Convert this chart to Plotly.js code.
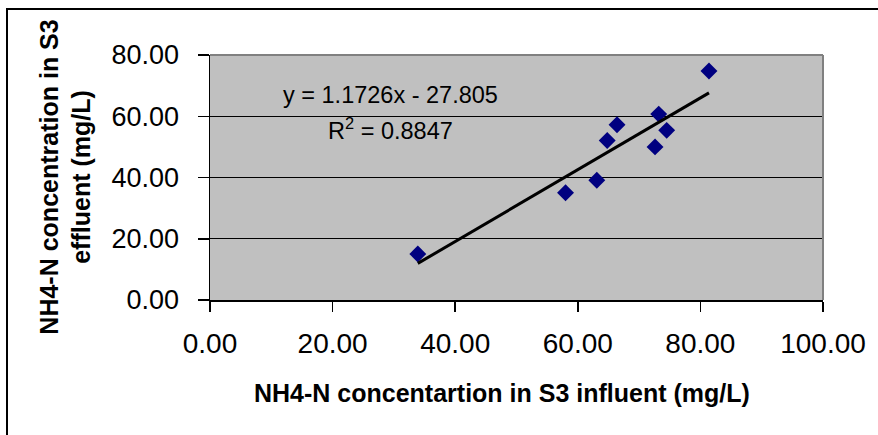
<!DOCTYPE html>
<html>
<head>
<meta charset="utf-8">
<script src="https://cdn.plot.ly/plotly-3.0.1.min.js"></script>
<style>
  html, body { margin: 0; padding: 0; background: #fff; }
  #wrap { position: relative; width: 878px; height: 435px; overflow: hidden; }
  #chart { width: 878px; height: 435px; }
  #frame { position: absolute; left: 6px; top: 8px; width: 1000px; height: 600px;
           border-left: 2px solid #000; border-top: 2px solid #000; pointer-events: none; }
</style>
</head>
<body>
<div id="wrap">
  <div id="chart"></div>
  <div id="frame"></div>
</div>
<script>
// Data
const influent = [33.9, 58.0, 63.1, 64.8, 66.4, 72.6, 73.2, 74.5, 81.4];
const effluent = [15.0, 35.0, 39.1, 52.1, 57.2, 50.0, 60.7, 55.4, 74.8];
const trendSlope = 1.1726;
const trendIntercept = -27.805;
const rSquared = 0.8847;
const xTickVals = [0, 20, 40, 60, 80, 100];
const yTickVals = [0, 20, 40, 60, 80];
const xTitle = 'NH4-N concentartion in S3 influent (mg/L)';
const yTitleLines = ['NH4-N concentration in S3', 'effluent (mg/L)'];

const xMin = Math.min(...influent);
const xMax = Math.max(...influent);
const trendX = [xMin, xMax];
const trendY = trendX.map(x => trendSlope * x + trendIntercept);

const font = '"Liberation Sans", Arial, sans-serif';

const traces = [
  {
    x: influent, y: effluent, type: 'scatter', mode: 'markers',
    marker: { symbol: 'diamond', size: 13, color: '#000080', line: { width: 0 } },
    hoverinfo: 'x+y', showlegend: false
  },
  {
    x: trendX, y: trendY, type: 'scatter', mode: 'lines',
    line: { color: '#000000', width: 3 }, showlegend: false
  }
];

const layout = {
  width: 878, height: 435,
  margin: { l: 210, r: 55, t: 55, b: 135 },
  paper_bgcolor: 'rgba(0,0,0,0)',
  plot_bgcolor: '#C0C0C0',
  font: { family: font, color: '#000' },
  showlegend: false,
  xaxis: {
    range: [0, 100], tickvals: xTickVals, tickformat: '.2f',
    showgrid: false, zeroline: false,
    showline: true, linecolor: '#000', linewidth: 1.5,
    ticks: 'outside', ticklen: 10, tickwidth: 1.5, tickcolor: '#000',
    ticklabelstandoff: 8,
    tickfont: { family: font, size: 28, color: '#000' }
  },
  yaxis: {
    range: [0, 80], tickvals: yTickVals, tickformat: '.2f',
    showgrid: true, gridcolor: '#000', gridwidth: 1.3,
    zeroline: false,
    showline: true, linecolor: '#000', linewidth: 1.5,
    ticks: 'outside', ticklen: 11, tickwidth: 1.5, tickcolor: '#000',
    ticklabelstandoff: 13,
    tickfont: { family: font, size: 27, color: '#000' }
  },
  shapes: [
    { type: 'line', xref: 'paper', yref: 'paper', x0: 0, x1: 1, y0: 1, y1: 1,
      line: { color: '#808080', width: 2 }, layer: 'above' },
    { type: 'line', xref: 'paper', yref: 'paper', x0: 1, x1: 1, y0: 0, y1: 1,
      line: { color: '#808080', width: 2 }, layer: 'above' }
  ],
  annotations: [
    { x: 29.5, y: 66.9, xref: 'x', yref: 'y', showarrow: false,
      text: 'y = ' + trendSlope + 'x - ' + Math.abs(trendIntercept),
      font: { family: font, size: 23.5, color: '#000' }, xanchor: 'center', yanchor: 'middle' },
    { x: 29.5, y: 55.8, xref: 'x', yref: 'y', showarrow: false,
      text: 'R<sup>2</sup> = ' + rSquared,
      font: { family: font, size: 23.5, color: '#000' }, xanchor: 'center', yanchor: 'middle' },
    { x: 0.476, y: -0.378, xref: 'paper', yref: 'paper', showarrow: false,
      text: '<b>' + xTitle + '</b>',
      font: { family: font, size: 25, color: '#000' }, xanchor: 'center', yanchor: 'middle' },
    { x: -0.2363, y: 0.5, xref: 'paper', yref: 'paper', showarrow: false, textangle: -90,
      text: '<b>' + yTitleLines.join('<br>') + '</b>',
      font: { family: font, size: 25, color: '#000' }, xanchor: 'center', yanchor: 'middle' }
  ]
};

Plotly.newPlot('chart', traces, layout, { staticPlot: true, displayModeBar: false });
</script>
</body>
</html>
